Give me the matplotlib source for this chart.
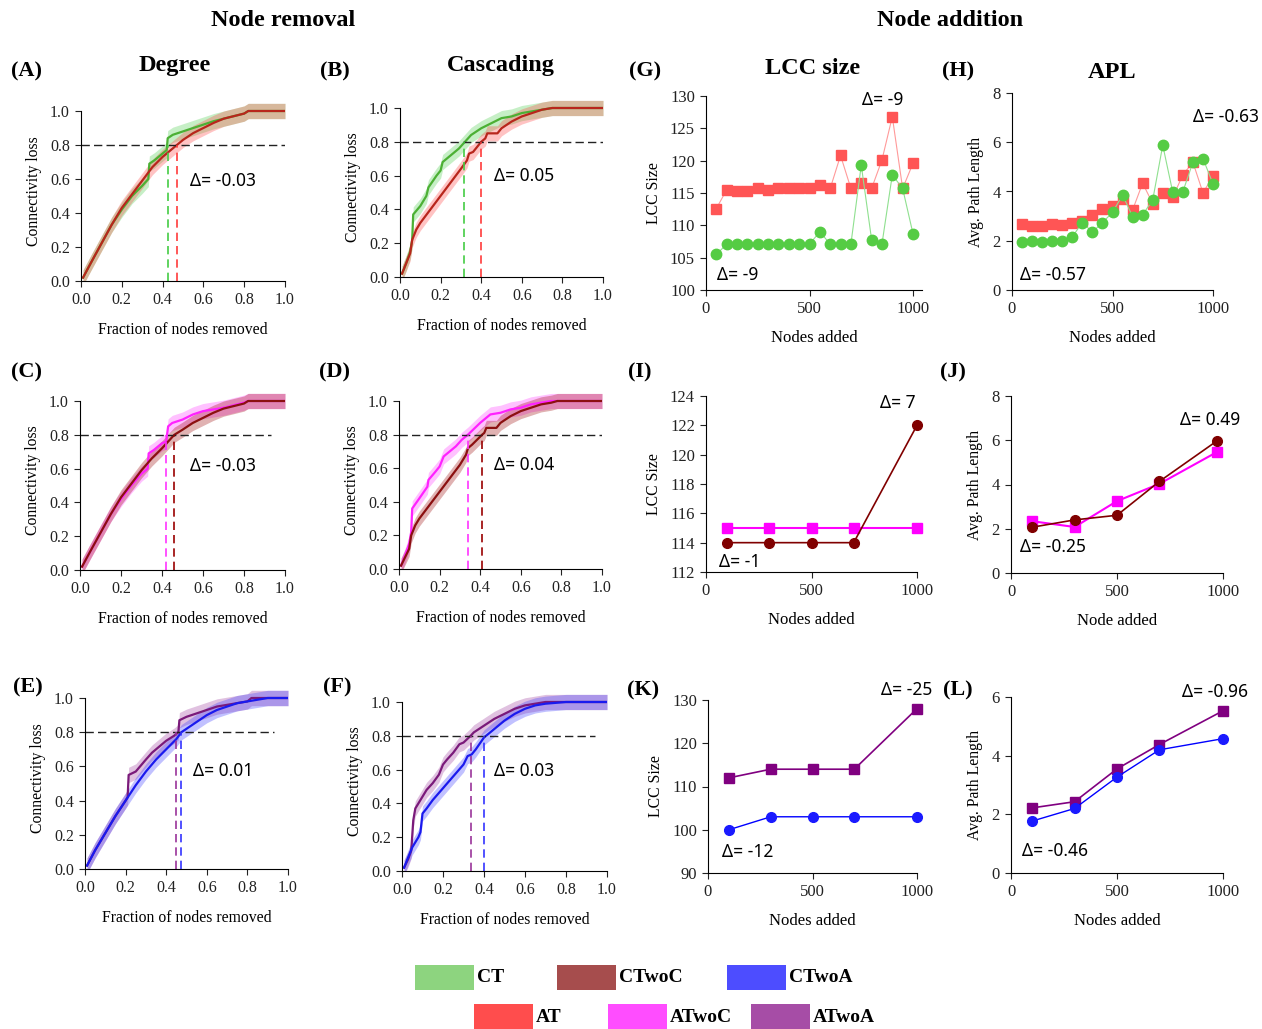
import matplotlib
matplotlib.use("Agg")
import matplotlib.pyplot as plt
from matplotlib.patches import Rectangle

W, H = 1262, 1029

# ---------------- node removal curves (fraction removed, connectivity loss) ----------------
A_CT_x = [0.01, 0.05, 0.1, 0.15, 0.2, 0.25, 0.3, 0.33, 0.335, 0.36, 0.4, 0.42, 0.425, 0.45, 0.5,
          0.55, 0.6, 0.65, 0.7, 0.75, 0.8, 0.82, 1.0]
A_CT_y = [0.02, 0.11, 0.22, 0.33, 0.42, 0.50, 0.56, 0.60, 0.69, 0.71, 0.75, 0.77, 0.84, 0.86, 0.88,
          0.90, 0.92, 0.94, 0.955, 0.97, 0.985, 1.0, 1.0]
A_AT_x = [0.01, 0.05, 0.1, 0.15, 0.2, 0.25, 0.3, 0.35, 0.4, 0.45, 0.47, 0.5, 0.55, 0.6, 0.65, 0.7,
          0.75, 0.8, 0.82, 0.9, 1.0]
A_AT_y = [0.02, 0.11, 0.22, 0.33, 0.43, 0.51, 0.59, 0.67, 0.73, 0.78, 0.80, 0.83, 0.87, 0.90, 0.93,
          0.955, 0.97, 0.985, 1.0, 1.0, 1.0]

B_CT_x = [0.01, 0.03, 0.05, 0.06, 0.065, 0.1, 0.13, 0.14, 0.18, 0.2, 0.21, 0.25, 0.29, 0.32, 0.35,
          0.4, 0.45, 0.5, 0.55, 0.6, 0.65, 0.7, 0.75, 1.0]
B_CT_y = [0.02, 0.08, 0.15, 0.22, 0.37, 0.42, 0.48, 0.53, 0.60, 0.63, 0.68, 0.72, 0.76, 0.80, 0.84,
          0.88, 0.91, 0.94, 0.95, 0.97, 0.98, 0.99, 1.0, 1.0]
B_AT_x = [0.01, 0.03, 0.05, 0.06, 0.08, 0.1, 0.15, 0.2, 0.25, 0.3, 0.33, 0.34, 0.36, 0.4, 0.42,
          0.43, 0.48, 0.5, 0.55, 0.6, 0.65, 0.7, 0.75, 1.0]
B_AT_y = [0.02, 0.08, 0.14, 0.22, 0.28, 0.32, 0.40, 0.48, 0.56, 0.64, 0.69, 0.73, 0.74, 0.80, 0.82,
          0.85, 0.85, 0.88, 0.92, 0.95, 0.97, 0.99, 1.0, 1.0]

C_ATwoC_x = [0.01, 0.05, 0.1, 0.15, 0.2, 0.25, 0.3, 0.33, 0.335, 0.36, 0.4, 0.42, 0.43, 0.45, 0.5,
             0.55, 0.6, 0.65, 0.7, 0.75, 0.8, 0.82, 1.0]
C_ATwoC_y = [0.02, 0.11, 0.22, 0.33, 0.42, 0.50, 0.57, 0.60, 0.69, 0.71, 0.75, 0.76, 0.85, 0.87,
             0.89, 0.92, 0.94, 0.95, 0.96, 0.975, 0.99, 1.0, 1.0]
C_CTwoC_x = [0.01, 0.05, 0.1, 0.15, 0.2, 0.25, 0.3, 0.35, 0.4, 0.46, 0.5, 0.55, 0.6, 0.65, 0.7,
             0.75, 0.8, 0.82, 0.9, 1.0]
C_CTwoC_y = [0.02, 0.11, 0.22, 0.33, 0.43, 0.51, 0.59, 0.66, 0.72, 0.80, 0.83, 0.87, 0.90, 0.93,
             0.955, 0.97, 0.985, 1.0, 1.0, 1.0]

D_ATwoC_x = [0.01, 0.03, 0.05, 0.06, 0.065, 0.1, 0.14, 0.145, 0.18, 0.2, 0.22, 0.25, 0.28, 0.31,
             0.34, 0.4, 0.45, 0.5, 0.55, 0.6, 0.65, 0.7, 0.75, 1.0]
D_ATwoC_y = [0.02, 0.08, 0.15, 0.22, 0.36, 0.42, 0.49, 0.53, 0.58, 0.61, 0.67, 0.70, 0.73, 0.77,
             0.80, 0.87, 0.92, 0.93, 0.95, 0.96, 0.98, 0.99, 1.0, 1.0]
D_CTwoC_x = [0.01, 0.03, 0.05, 0.06, 0.08, 0.1, 0.15, 0.2, 0.25, 0.3, 0.33, 0.34, 0.36, 0.41, 0.42,
             0.43, 0.48, 0.5, 0.55, 0.6, 0.65, 0.7, 0.75, 0.78, 1.0]
D_CTwoC_y = [0.02, 0.07, 0.12, 0.20, 0.26, 0.30, 0.38, 0.46, 0.54, 0.62, 0.68, 0.72, 0.74, 0.80,
             0.81, 0.84, 0.84, 0.87, 0.91, 0.94, 0.96, 0.98, 0.99, 1.0, 1.0]

E_ATwoA_x = [0.01, 0.05, 0.1, 0.15, 0.2, 0.21, 0.215, 0.25, 0.3, 0.33, 0.35, 0.4, 0.44, 0.46, 0.465,
             0.5, 0.55, 0.6, 0.65, 0.7, 0.75, 0.8, 0.82, 1.0]
E_ATwoA_y = [0.02, 0.11, 0.21, 0.31, 0.40, 0.42, 0.55, 0.57, 0.64, 0.68, 0.70, 0.75, 0.78, 0.80,
             0.87, 0.89, 0.91, 0.93, 0.95, 0.96, 0.97, 0.98, 1.0, 1.0]
E_CTwoA_x = [0.01, 0.05, 0.1, 0.15, 0.2, 0.25, 0.3, 0.35, 0.4, 0.45, 0.475, 0.5, 0.55, 0.6, 0.65,
             0.7, 0.75, 0.8, 0.85, 0.9, 1.0]
E_CTwoA_y = [0.02, 0.11, 0.21, 0.31, 0.40, 0.49, 0.57, 0.64, 0.70, 0.76, 0.80, 0.82, 0.86, 0.90,
             0.93, 0.95, 0.97, 0.98, 0.99, 1.0, 1.0]

F_ATwoA_x = [0.01, 0.03, 0.045, 0.055, 0.065, 0.08, 0.1, 0.12, 0.15, 0.18, 0.2, 0.22, 0.25, 0.28,
             0.3, 0.335, 0.35, 0.4, 0.45, 0.5, 0.55, 0.6, 0.65, 0.7, 1.0]
F_ATwoA_y = [0.02, 0.07, 0.12, 0.30, 0.37, 0.40, 0.44, 0.48, 0.52, 0.57, 0.63, 0.66, 0.70, 0.75,
             0.76, 0.80, 0.82, 0.86, 0.90, 0.93, 0.96, 0.98, 0.99, 1.0, 1.0]
F_CTwoA_x = [0.01, 0.05, 0.08, 0.09, 0.1, 0.12, 0.15, 0.2, 0.25, 0.3, 0.32, 0.34, 0.36, 0.4, 0.45,
             0.5, 0.55, 0.6, 0.65, 0.7, 0.8, 1.0]
F_CTwoA_y = [0.02, 0.14, 0.20, 0.23, 0.34, 0.37, 0.42, 0.49, 0.56, 0.63, 0.68, 0.69, 0.72, 0.79,
             0.84, 0.89, 0.93, 0.96, 0.98, 0.99, 1.0, 1.0]

BAND_SD = 0.045
THRESH = 0.8
# x where each curve reaches the 0.8 threshold
A_cross = [0.425, 0.47]
B_cross = [0.315, 0.40]
C_cross = [0.42, 0.46]
D_cross = [0.34, 0.41]
E_cross = [0.45, 0.475]
F_cross = [0.335, 0.40]
removal_deltas = ["-0.03", "0.05", "-0.03", "0.04", "0.01", "0.03"]

# ---------------- node addition ----------------
G_x = [50, 100, 150, 200, 250, 300, 350, 400, 450, 500, 550, 600, 650, 700, 750, 800, 850, 900, 950, 1000]
G_AT = [112.6, 115.5, 115.3, 115.3, 115.7, 115.5, 115.7, 115.7, 115.7, 115.7, 116.2, 115.7, 120.8,
        115.7, 116.6, 115.7, 120.1, 126.8, 115.7, 119.6]
G_CT = [105.5, 107.1, 107.1, 107.1, 107.1, 107.1, 107.1, 107.1, 107.1, 107.1, 109.0, 107.1, 107.1,
        107.1, 119.3, 107.8, 107.1, 117.8, 115.7, 108.7]
H_AT = [2.67, 2.60, 2.60, 2.67, 2.64, 2.74, 2.80, 3.05, 3.27, 3.43, 3.69, 3.25, 4.34, 3.51, 3.93,
        3.77, 4.68, 5.19, 3.95, 4.61]
H_CT = [1.95, 1.97, 1.94, 2.00, 2.00, 2.16, 2.74, 2.35, 2.74, 3.15, 3.86, 2.98, 3.06, 3.65, 5.88,
        3.96, 3.99, 5.19, 5.34, 4.31]

I_x = [100, 300, 500, 700, 1000]
I_ATwoC = [115, 115, 115, 115, 115]
I_CTwoC = [114, 114, 114, 114, 122]
J_x = [100, 300, 500, 700, 970]
J_ATwoC = [2.34, 2.08, 3.25, 4.03, 5.46]
J_CTwoC = [2.07, 2.40, 2.61, 4.14, 5.96]
K_x = [100, 300, 500, 700, 1000]
K_ATwoA = [112, 114, 114, 114, 128]
K_CTwoA = [100, 103, 103, 103, 103]
L_x = [100, 300, 500, 700, 1000]
L_ATwoA = [2.22, 2.43, 3.55, 4.38, 5.53]
L_CTwoA = [1.77, 2.20, 3.27, 4.20, 4.58]

# colours
C_CT, C_AT = "#4cb034", "#b8261c"
C_CTWOC, C_ATWOC = "#8b1010", "#ff22ff"
C_CTWOA, C_ATWOA = "#1a1aee", "#7a1a7a"

plt.rcParams["font.family"] = ["Liberation Serif", "DejaVu Serif"]
fig = plt.figure(figsize=(W / 100, H / 100), dpi=100)


def place(ax, xref, xpx, yref, ypx, xlim, ylim):
    # put the axes so that data values xref/yref land on pixel positions xpx/ypx
    sx = (xpx[1] - xpx[0]) / (xref[1] - xref[0])
    sy = (ypx[1] - ypx[0]) / (yref[1] - yref[0])
    left = xpx[0] + (xlim[0] - xref[0]) * sx
    right = xpx[0] + (xlim[1] - xref[0]) * sx
    bottom = ypx[0] + (ylim[0] - yref[0]) * sy
    top = ypx[0] + (ylim[1] - yref[0]) * sy
    ax.set_position([left / W, 1 - bottom / H, (right - left) / W, (bottom - top) / H])
    ax.set_xlim(xlim)
    ax.set_ylim(ylim)


def style(ax, xb, yb, size):
    for s in ("top", "right"):
        ax.spines[s].set_visible(False)
    ax.spines["left"].set_bounds(*yb)
    ax.spines["bottom"].set_bounds(*xb)
    ax.tick_params(direction="out", length=4, width=0.8, labelsize=size, colors="#222222", pad=4)
    ax.patch.set_alpha(0)


def delta(ax, x, y, val):
    ax.text(x, y, "\u0394= " + val, fontsize=12.5, ha="left", va="center",
            family=["Noto Sans", "DejaVu Sans"])


def removal_panel(xpx, ypx, series, cross, hline_end, dval, dpos):
    ax = fig.add_axes([0, 0, 1, 1])
    place(ax, (0, 1), xpx, (0, 1), ypx, (0, 1.0), (0, 1.06))
    for x, y, lc, bc in series:
        ax.fill_between(x, [v - BAND_SD for v in y], [v + BAND_SD for v in y],
                        color=bc, alpha=0.3, lw=0)
    for x, y, lc, bc in series:
        ax.plot(x, y, color=lc, lw=1.6)
    ax.plot([0, hline_end], [THRESH, THRESH], ls=(0, (6, 3)), color="#222222", lw=1)
    for xc, s in zip(cross, series):
        ax.plot([xc, xc], [0, THRESH], ls=(0, (5, 3)), color=s[3], lw=1.2)
    ticks = [0, 0.2, 0.4, 0.6, 0.8, 1.0]
    ax.set_xticks(ticks)
    ax.set_xticklabels([f"{t:.1f}" for t in ticks])
    ax.set_yticks(ticks)
    ax.set_yticklabels([f"{t:.1f}" for t in ticks])
    style(ax, (0, 1), (0, 1), 11.5)
    ax.set_xlabel("Fraction of nodes removed", fontsize=11.3, labelpad=10)
    ax.set_ylabel("Connectivity loss", fontsize=11.3, labelpad=6)
    delta(ax, dpos[0], dpos[1], dval)
    return ax


removal_panel((81, 285), (281, 111),
              [(A_CT_x, A_CT_y, C_CT, "#44cc44"), (A_AT_x, A_AT_y, C_AT, "#ff3b3b")],
              A_cross, 1.0, removal_deltas[0], (0.534, 0.59))
removal_panel((400, 603), (277, 108),
              [(B_CT_x, B_CT_y, C_CT, "#44cc44"), (B_AT_x, B_AT_y, C_AT, "#ff3b3b")],
              B_cross, 1.0, removal_deltas[1], (0.464, 0.6))
removal_panel((80, 285), (570, 401),
              [(C_ATwoC_x, C_ATwoC_y, C_ATWOC, "#ff33ff"), (C_CTwoC_x, C_CTwoC_y, C_CTWOC, "#990000")],
              C_cross, 0.93, removal_deltas[2], (0.537, 0.615))
removal_panel((399, 602), (569, 401),
              [(D_ATwoC_x, D_ATwoC_y, C_ATWOC, "#ff33ff"), (D_CTwoC_x, D_CTwoC_y, C_CTWOC, "#990000")],
              D_cross, 1.0, removal_deltas[3], (0.468, 0.62))
removal_panel((85, 288), (869, 698),
              [(E_ATwoA_x, E_ATwoA_y, C_ATWOA, "#993399"), (E_CTwoA_x, E_CTwoA_y, C_CTWOA, "#3333ff")],
              E_cross, 0.93, removal_deltas[4], (0.532, 0.573))
removal_panel((402, 607), (871, 702),
              [(F_ATwoA_x, F_ATwoA_y, C_ATWOA, "#993399"), (F_CTwoA_x, F_CTwoA_y, C_CTWOA, "#3333ff")],
              F_cross, 0.94, removal_deltas[5], (0.449, 0.59))


def addition_panel(xpx, yref, ypx, xmax, yticks, series, xlabel, ylabel, deltas):
    ax = fig.add_axes([0, 0, 1, 1])
    ylim = (yticks[0], yticks[-1])
    place(ax, (0, 1000), xpx, yref, ypx, (0, xmax), ylim)
    for x, y, lc, mc, mk, lw, ms in series:
        ax.plot(x, y, color=lc, lw=lw, marker=mk, markersize=ms, markerfacecolor=mc,
                markeredgecolor=mc, clip_on=False)
    ax.set_xticks([0, 500, 1000])
    ax.set_yticks(yticks)
    style(ax, (0, xmax), ylim, 12)
    ax.set_xlabel(xlabel, fontsize=12, labelpad=9)
    ax.set_ylabel(ylabel, fontsize=11.3, labelpad=6)
    for x, y, val in deltas:
        delta(ax, x, y, val)
    return ax


addition_panel((706, 913), (100, 130), (290, 96), 1045, [100, 105, 110, 115, 120, 125, 130],
               [(G_x, G_AT, "#ff9a9a", "#ff5555", "s", 0.8, 7.5),
                (G_x, G_CT, "#8fe08f", "#55cc44", "o", 0.8, 7.5)],
               "Nodes added", "LCC Size", [(752, 129.4, "-9"), (53, 102.3, "-9")])
addition_panel((1012, 1213), (0, 8), (290, 93), 1000, [0, 2, 4, 6, 8],
               [(G_x, H_AT, "#ff9a9a", "#ff5555", "s", 0.8, 7.5),
                (G_x, H_CT, "#8fe08f", "#55cc44", "o", 0.8, 7.5)],
               "Nodes added", "Avg. Path Length", [(902, 7.03, "-0.63"), (41, 0.61, "-0.57")])
addition_panel((706, 917), (112, 124), (572, 396), 1000, [112, 114, 116, 118, 120, 122, 124],
               [(I_x, I_ATwoC, "#ff00ff", "#ff00ff", "s", 1.5, 7),
                (I_x, I_CTwoC, "#800000", "#800000", "o", 1.2, 7)],
               "Nodes added", "LCC Size", [(825, 123.5, "7"), (62, 112.7, "-1")])
addition_panel((1011, 1223), (0, 8), (573, 396), 1000, [0, 2, 4, 6, 8],
               [(J_x, J_ATwoC, "#ff00ff", "#ff00ff", "s", 1.5, 7),
                (J_x, J_CTwoC, "#800000", "#800000", "o", 1.2, 7)],
               "Node added", "Avg. Path Length", [(797, 6.92, "0.49"), (42, 1.18, "-0.25")])
addition_panel((708, 917), (90, 130), (873, 700), 1000, [90, 100, 110, 120, 130],
               [(K_x, K_ATwoA, "#800080", "#800080", "s", 1.2, 7),
                (K_x, K_CTwoA, "#0000ff", "#1a1aff", "o", 1.0, 7)],
               "Nodes added", "LCC Size", [(829, 132.3, "-25"), (68, 94.8, "-12")])
addition_panel((1011, 1223), (0, 6), (873, 697), 1000, [0, 2, 4, 6],
               [(L_x, L_ATwoA, "#800080", "#800080", "s", 1.2, 7),
                (L_x, L_CTwoA, "#0000ff", "#1a1aff", "o", 1.0, 7)],
               "Nodes added", "Avg. Path Length", [(808, 6.17, "-0.96"), (54, 0.76, "-0.46")])

# ---------------- titles and panel letters ----------------
def ftext(x, y, s, size=17.5):
    fig.text(x / W, 1 - y / H, s, fontsize=size, fontweight="bold", ha="center", va="center")


ftext(283, 20, "Node removal")
ftext(950, 20, "Node addition")
ftext(175, 65, "Degree")
ftext(501, 65, "Cascading")
ftext(813, 69, "LCC size")
ftext(1112, 73, "APL")
for lab, x, y in [("(A)", 27, 71), ("(B)", 335, 71), ("(G)", 645, 71), ("(H)", 958, 71),
                  ("(C)", 27, 372), ("(D)", 335, 372), ("(I)", 640, 372), ("(J)", 953, 372),
                  ("(E)", 28, 687), ("(F)", 337, 687), ("(K)", 643, 690), ("(L)", 958, 690)]:
    ftext(x, y, lab, 16)

# ---------------- legend ----------------
legend_names = ["CT", "CTwoC", "CTwoA", "AT", "ATwoC", "ATwoA"]
legend_colors = ["#8dd47f", "#a64d4d", "#4d4dff", "#ff4d4d", "#ff4dff", "#a64da6"]
legend_slots = [(415, 965), (557, 965), (727, 965), (474, 1004), (608, 1004), (751, 1004)]
for name, col, (px, py) in zip(legend_names, legend_colors, legend_slots):
    fig.add_artist(Rectangle((px / W, 1 - (py + 25) / H), 59 / W, 25 / H,
                             transform=fig.transFigure, color=col, lw=0))
    fig.text((px + 62) / W, 1 - (py + 13) / H, name, fontsize=14, fontweight="bold",
             ha="left", va="center")

fig.savefig("out.png", dpi=100)
